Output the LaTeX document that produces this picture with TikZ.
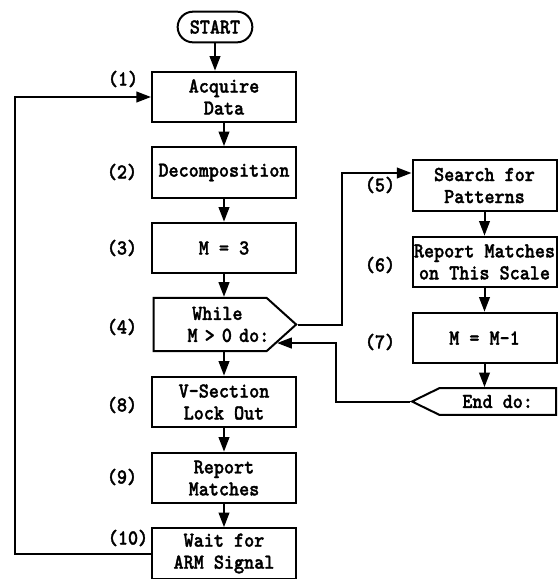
\documentclass[tikz,border=0pt]{standalone}
\usepackage{fontspec}
\newfontfamily\flowfont{lmmonolt10-bold.otf}[FakeStretch=0.9,FakeBold=1.5]
\usetikzlibrary{arrows.meta,calc,shapes.misc,shapes.symbols}
\tikzset{
  box/.style={draw,line width=1.5pt,minimum width=108pt,minimum height=38pt,
    align=center,inner sep=1pt},
  pill/.style={draw,rounded rectangle,line width=1.5pt,minimum width=58pt,
    minimum height=23pt,inner sep=1pt},
  whilebox/.style={draw,signal,signal to=east,signal pointer angle=84,
    line width=1.5pt,minimum width=107pt,minimum height=40pt,inner sep=1pt,
    text width=82.8pt,align=left},
  endbox/.style={draw,signal,signal to=west,signal pointer angle=52,
    line width=1.5pt,minimum width=108pt,minimum height=20pt,inner sep=1pt},
  tag/.style={inner sep=0pt},
  arr/.style={line width=1.5pt,-{Triangle[length=11pt,width=8pt]}},
}

\begin{document}
\begin{tikzpicture}[x=0.75pt,y=-0.75pt,font=\flowfont\fontsize{16}{16.5}\selectfont]
  \useasboundingbox (0,0) rectangle (558,579);

  % main column
  \node[pill] (start) at (215,27) {START};
  \node[box] (acq) at (224,97) {Acquire\\Data};
  \node[box] (dec) at (224,172.5) {Decomposition};
  \node[box] (mthree) at (224,248) {M = 3};
  \node[whilebox,anchor=west] (while) at (152.5,324.5)
    {\hspace*{28pt}\rlap{While}\\\hspace*{24.5pt}\rlap{M > 0 do:}};
  \node[box] (vsec) at (224,402) {V-Section\\Lock Out};
  \node[box] (rep) at (224,478) {Report\\Matches};
  \node[box] (wait) at (224,553.5) {Wait for\\ARM Signal};

  % loop body
  \node[box] (search) at (484.5,185.5) {Search for\\Patterns};
  \node[box] (scale) at (484.5,262) {Report Matches\\on This Scale};
  \node[box] (mdec) at (484.5,338) {M = M-1};
  \node[endbox,anchor=east] (enddo) at (557,401.5) {End do:};

  % step numbers
  \node[tag] (n1) at (123,79) {(1)};
  \node[tag] (n2) at (122,172) {(2)};
  \node[tag] (n3) at (122,248) {(3)};
  \node[tag] (n4) at (122,327) {(4)};
  \node[tag] (n5) at (380,185) {(5)};
  \node[tag] (n6) at (380,265) {(6)};
  \node[tag] (n7) at (380,342) {(7)};
  \node[tag] (n8) at (122,405) {(8)};
  \node[tag] (n9) at (122,477) {(9)};
  \node[tag] (n10) at (128,538) {(10)};

  \draw[arr] (start.south) -- (start.south |- acq.north);
  \draw[arr] (acq) -- (dec);
  \draw[arr] (dec) -- (mthree);
  \draw[arr] (mthree.south) -- (mthree.south |- while.north);
  \draw[arr] (vsec.north |- while.south) -- (vsec.north);
  \draw[arr] (vsec) -- (rep);
  \draw[arr] (rep) -- (wait);
  \draw[arr] (wait.west) -- ++(-136,0) |- (acq.west);

  \draw[arr] (search) -- (scale);
  \draw[arr] (scale) -- (mdec);
  \draw[arr] (mdec.south) -- (mdec.south |- enddo.north);

  \coordinate (searchin) at ($(search.west)+(0,-12.5)$);
  \coordinate (back) at ($(while.east)!0.67!(while.south east)$);
  \draw[arr] (while.east) -- ++(44,0) |- (searchin);
  \draw[arr] (enddo.west) -- ++(-74,0) |- (back);
\end{tikzpicture}
\end{document}
